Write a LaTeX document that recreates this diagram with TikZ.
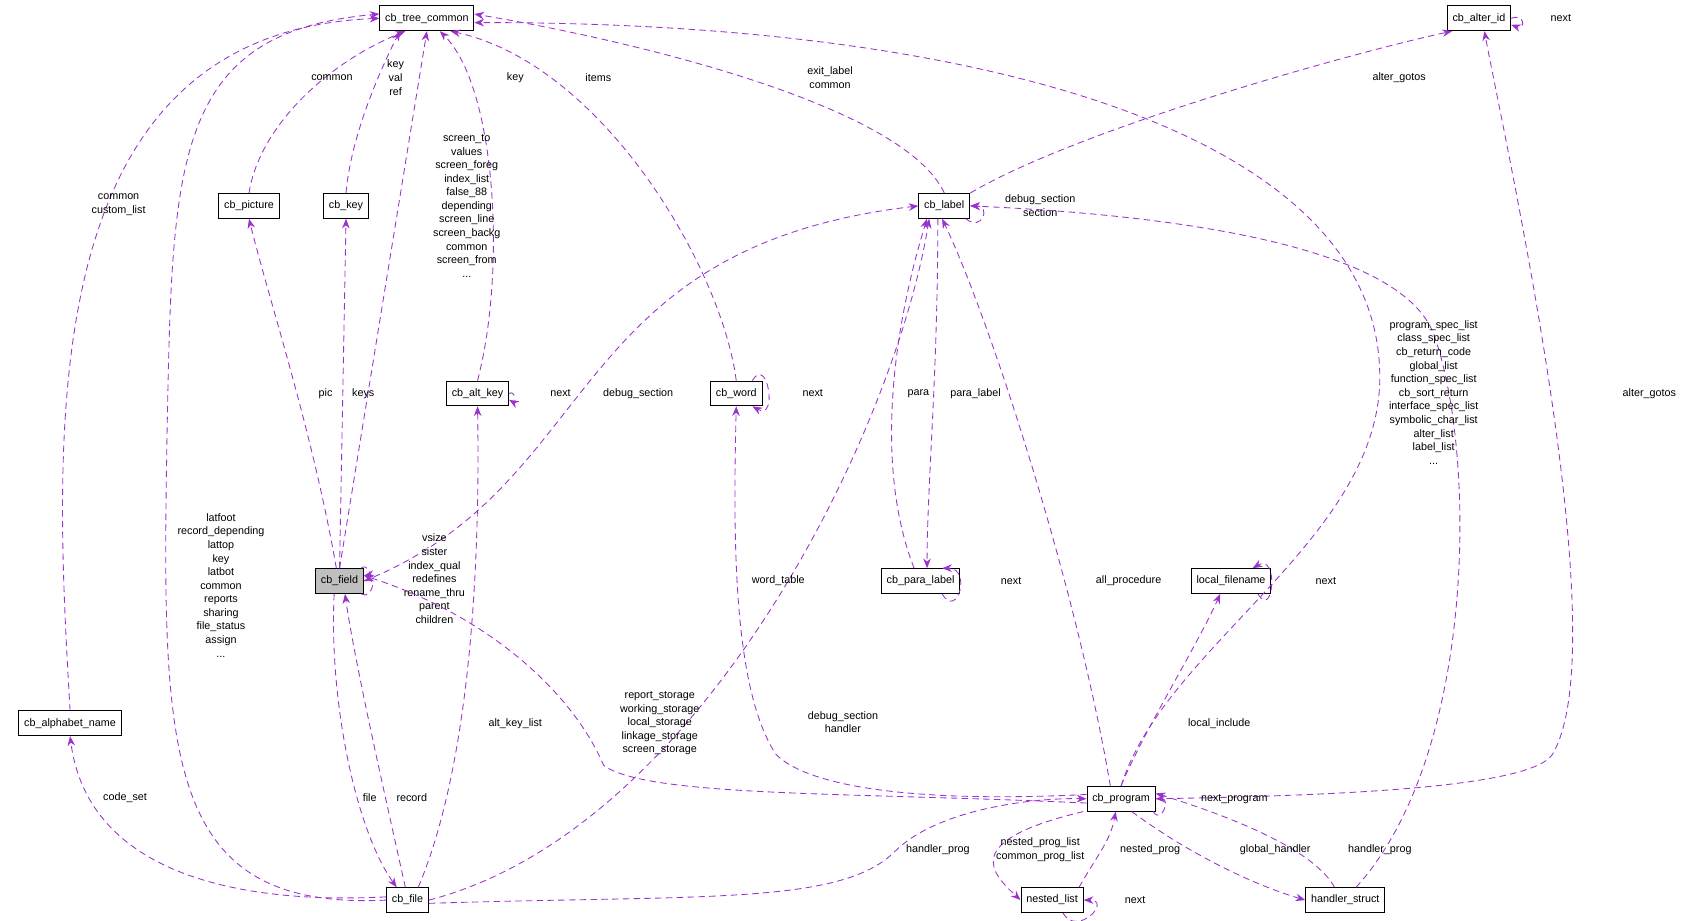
\documentclass[tikz,border=0pt]{standalone}
\usepackage{fontspec}
\setmainfont{Liberation Sans}
\usetikzlibrary{arrows.meta}
\definecolor{edg}{HTML}{9A32CD}
\begin{document}
\begin{tikzpicture}[x=1pt,y=-1pt,
  box/.style={draw,thick,minimum height=23pt,inner xsep=5pt,inner ysep=2pt,font=\fontsize{10}{12}\selectfont,fill=white},
  e/.style={draw=edg,dashed,thick,dash pattern=on 6pt off 4pt,-{Stealth[length=9pt,width=7pt,fill=edg]}},
  lb/.style={font=\fontsize{10}{12.6}\selectfont,align=center,inner sep=0pt}]
\useasboundingbox (0,0) rectangle (1565,854);
\node[box] (tc) at (396,17) {cb\_tree\_common};
\node[box] (ai) at (1372,17) {cb\_alter\_id};
\node[box] (pi) at (231,191) {cb\_picture};
\node[box] (ke) at (321,191) {cb\_key};
\node[box] (la) at (876,191) {cb\_label};
\node[box] (ak) at (443,365) {cb\_alt\_key};
\node[box] (wo) at (683,365) {cb\_word};
\node[box,fill=black!25] (fi) at (315,539) {cb\_field};
\node[box] (pl) at (854,539) {cb\_para\_label};
\node[box] (lf) at (1142,539) {local\_filename};
\node[box] (an) at (65,671) {cb\_alphabet\_name};
\node[box] (pr) at (1040,741) {cb\_program};
\node[box] (cf) at (378,835) {cb\_file};
\node[box] (nl) at (976,835) {nested\_list};
\node[box] (hs) at (1248,835) {handler\_struct};

% to cb_tree_common
\draw[e] (an.north) .. controls (50,400) and (30,30) .. (tc.west);
\draw[e] (pi.north) .. controls (240,120) and (300,60) .. ([xshift=-20pt]tc.south);
\draw[e] (ke.north) .. controls (325,130) and (350,70) .. ([xshift=-25pt]tc.south);
\draw[e] (fi.north) -- (tc.south);
\draw[e] (cf.west) .. controls (150,845) and (150,700) .. (155,400) .. controls (160,150) and (160,30) .. ([yshift=4pt]tc.west);
\draw[e] (ak.north) .. controls (470,250) and (460,80) .. ([xshift=12pt]tc.south);
\draw[e] (wo.north) .. controls (670,250) and (560,60) .. ([xshift=22pt]tc.south);
\draw[e] (la.north) .. controls (840,100) and (600,40) .. ([yshift=4pt]tc.east);
\draw[e] (pr.north) .. controls (1080,600) and (1280,500) .. (1280,350) .. controls (1280,120) and (900,20) .. ([yshift=-4pt]tc.east);
\node[lb] at (110,190) {common\\custom\_list};
\node[lb] at (308,72) {common};
\node[lb] at (367,72) {key\\val\\ref};
\node[lb] at (433,191) {screen\_to\\values\\screen\_foreg\\index\_list\\false\_88\\depending\\screen\_line\\screen\_backg\\common\\screen\_from\\...};
\node[lb] at (205,543) {latfoot\\record\_depending\\lattop\\key\\latbot\\common\\reports\\sharing\\file\_status\\assign\\...};
\node[lb] at (478,72) {key};
\node[lb] at (555,72) {items};
\node[lb] at (770,72) {exit\_label\\common};

% cb_alter_id
\draw[e] (ai.east) to[out=20,in=-20,looseness=6] ([yshift=-6pt]ai.east);
\node[lb] at (1448,17) {next};
\draw[e] (la.north east) .. controls (1000,120) and (1250,50) .. ([xshift=-25pt]ai.south);
\node[lb] at (1298,72) {alter\_gotos};
\draw[e] (pr.east) .. controls (1250,738) and (1420,730) .. (1440,700) .. controls (1500,600) and (1400,150) .. ([xshift=5pt]ai.south);
\node[lb] at (1530,365) {alter\_gotos};

% cb_label
\draw[e] ([xshift=20pt]la.south) to[out=-40,in=0,looseness=4] (la.east);
\node[lb] at (965,191) {debug\_section\\section};
\draw[e] (fi.east) .. controls (560,450) and (520,230) .. (la.west);
\node[lb] at (592,365) {debug\_section};
\draw[e] ([xshift=-6pt]la.south) .. controls (870,350) and (860,450) .. ([xshift=6pt]pl.north);
\node[lb] at (905,365) {para\_label};
\draw[e] ([xshift=-6pt]pl.north) .. controls (810,430) and (830,300) .. ([xshift=-16pt]la.south);
\node[lb] at (852,365) {para};
\draw[e] ([xshift=-10pt]pr.north) .. controls (1000,550) and (920,300) .. ([xshift=-2pt]la.south);
\node[lb] at (1047,539) {all\_procedure};
\draw[e] ([xshift=10pt]hs.north) .. controls (1370,700) and (1370,420) .. (1330,310) .. controls (1300,230) and (1100,200) .. (la.east);
\node[lb] at (1330,364) {program\_spec\_list\\class\_spec\_list\\cb\_return\_code\\global\_list\\function\_spec\_list\\cb\_sort\_return\\interface\_spec\_list\\symbolic\_char\_list\\alter\_list\\label\_list\\...};
\draw[e] (cf.east) .. controls (650,770) and (830,400) .. ([xshift=-14pt]la.south);
\node[lb] at (782,670) {debug\_section\\handler};

% self loops
\draw[e] (ak.east) to[out=30,in=-30,looseness=3] ([yshift=6pt]ak.south east);
\node[lb] at (520,365) {next};
\draw[e] ([xshift=15pt]wo.north) to[out=60,in=-30,looseness=3] ([xshift=15pt]wo.south);
\node[lb] at (754,365) {next};
\draw[e] ([xshift=20pt]pl.south) to[out=-60,in=0,looseness=3] ([xshift=20pt]pl.north);
\node[lb] at (938,539) {next};
\draw[e] ([xshift=25pt]lf.south) to[out=-60,in=30,looseness=3] ([xshift=20pt]lf.north);
\node[lb] at (1230,539) {next};
\draw[e] ([xshift=10pt]nl.south) to[out=-60,in=0,looseness=3] (nl.east);
\node[lb] at (1053,835) {next};
\draw[e] ([xshift=30pt]pr.south) to[out=-60,in=0,looseness=3] (pr.east);
\node[lb] at (1145,741) {next\_program};
\draw[e] ([xshift=20pt]fi.south) to[out=-30,in=20,looseness=2.5] (fi.east);
\draw[e] ([xshift=20pt]fi.north) to[out=40,in=10,looseness=2.5] ([yshift=5pt]fi.east);
\node[lb] at (403,537) {vsize\\sister\\index\_qual\\redefines\\rename\_thru\\parent\\children};

% cb_program other
\draw[e] ([yshift=-4pt]pr.west) .. controls (800,735) and (600,740) .. (560,710) .. controls (530,640) and (450,570) .. ([yshift=5pt]fi.east);
\node[lb] at (612,671) {report\_storage\\working\_storage\\local\_storage\\linkage\_storage\\screen\_storage};
\draw[e] ([yshift=4pt]pr.west) .. controls (850,745) and (750,730) .. (720,700) .. controls (680,640) and (680,500) .. (wo.south);
\node[lb] at (722,539) {word\_table};
\draw[e] (pr.north) .. controls (1060,680) and (1110,600) .. ([xshift=-10pt]lf.south);
\node[lb] at (1131,671) {local\_include};
\draw[e] ([xshift=-10pt]hs.north) .. controls (1220,790) and (1150,760) .. ([yshift=5pt]pr.east);
\node[lb] at (1280,788) {handler\_prog};
\draw[e] ([xshift=10pt]pr.south) .. controls (1100,790) and (1160,820) .. (hs.west);
\node[lb] at (1183,788) {global\_handler};
\draw[e] ([xshift=-35pt]pr.south) .. controls (890,780) and (920,810) .. (nl.west);
\node[lb] at (965,788) {nested\_prog\_list\\common\_prog\_list};
\draw[e] ([xshift=25pt]nl.north) .. controls (1020,790) and (1030,780) .. ([xshift=-5pt]pr.south);
\node[lb] at (1067,788) {nested\_prog};
\draw[e] ([yshift=-3pt]cf.east) .. controls (650,830) and (780,840) .. (830,790) .. controls (870,750) and (960,740) .. (pr.west);
\node[lb] at (870,788) {handler\_prog};

% cb_file
\draw[e] ([xshift=10pt]cf.north) .. controls (440,700) and (445,500) .. (ak.south);
\node[lb] at (478,671) {alt\_key\_list};
\draw[e] ([xshift=-2pt]cf.north) .. controls (360,750) and (330,620) .. ([xshift=5pt]fi.south);
\node[lb] at (382,740) {record};
\draw[e] ([xshift=-5pt]fi.south) .. controls (305,650) and (330,770) .. ([xshift=-10pt]cf.north);
\node[lb] at (343,740) {file};
\draw[e] ([yshift=3pt]cf.west) .. controls (200,840) and (80,800) .. (an.south);
\node[lb] at (116,740) {code\_set};
\draw[e] ([xshift=-3pt]fi.north) .. controls (290,400) and (250,280) .. (pi.south);
\node[lb] at (302,365) {pic};
\draw[e] (fi.north) -- (ke.south);
\node[lb] at (337,365) {keys};
\end{tikzpicture}
\end{document}
